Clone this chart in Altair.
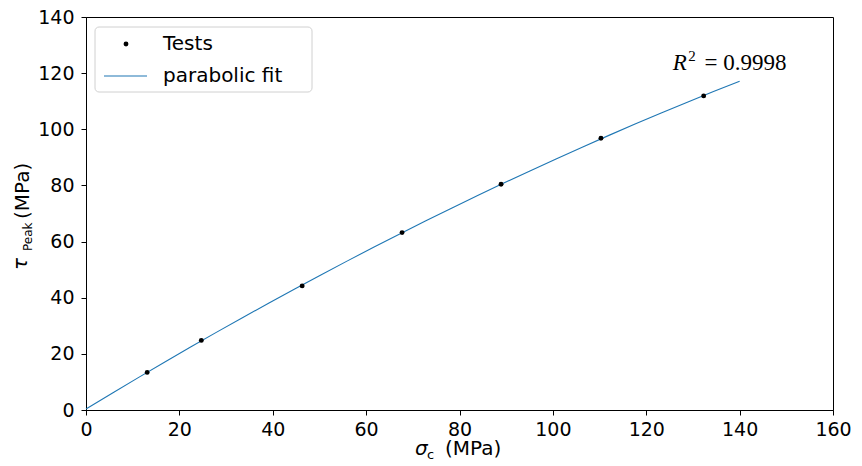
import altair as alt
import pandas as pd

# Test data
sigma_c = [13.1, 24.7, 46.3, 67.7, 88.9, 110.3, 132.3]
tau_peak = [13.4, 24.8, 44.2, 63.2, 80.4, 96.8, 111.9]

x_ticks = [0, 20, 40, 60, 80, 100, 120, 140, 160]
y_ticks = [0, 20, 40, 60, 80, 100, 120, 140]

fit_extent = [0, 140]
r2_label = "= 0.9998"

W, H = 747, 393
SANS = "DejaVu Sans"
SERIF = "Liberation Serif"
BLUE = "#1f77b4"

df = pd.DataFrame({"x": sigma_c, "y": tau_peak})

xs = alt.Scale(domain=[0, 160], nice=False, zero=False)
ys = alt.Scale(domain=[0, 140], nice=False, zero=False)

xax = alt.Axis(values=x_ticks, title=None, grid=False, labelFontSize=19, labelFont=SANS,
               labelColor="black", tickColor="black", domainColor="black",
               tickSize=5, labelPadding=5, labelFlush=False)
yax = alt.Axis(values=y_ticks, title=None, grid=False, labelFontSize=19, labelFont=SANS,
               labelColor="black", tickColor="black", domainColor="black",
               tickSize=5, labelPadding=7, labelFlush=False)

base = alt.Chart(df)

fit = base.transform_regression("x", "y", method="poly", order=2, extent=fit_extent).mark_line(
    color=BLUE, strokeWidth=1.1
).encode(x=alt.X("x:Q", scale=xs, axis=xax), y=alt.Y("y:Q", scale=ys, axis=yax))

pts = base.mark_point(filled=True, color="black", size=24, opacity=1).encode(
    x=alt.X("x:Q", scale=xs), y=alt.Y("y:Q", scale=ys)
)

# R^2 annotation in data coordinates
r_df = pd.DataFrame({"x": [125.7], "y": [121.1], "t": ["R"]})
sup_df = pd.DataFrame({"x": [129.0], "y": [124.3], "t": ["2"]})
eq_df = pd.DataFrame({"x": [132.5], "y": [121.1], "t": [r2_label]})

r_txt = alt.Chart(r_df).mark_text(font=SERIF, fontSize=23, fontStyle="italic", align="left",
                                  baseline="alphabetic", color="black").encode(
    x=alt.X("x:Q", scale=xs), y=alt.Y("y:Q", scale=ys), text="t:N")
sup_txt = alt.Chart(sup_df).mark_text(font=SERIF, fontSize=15, align="left",
                                      baseline="alphabetic", color="black").encode(
    x=alt.X("x:Q", scale=xs), y=alt.Y("y:Q", scale=ys), text="t:N")
eq_txt = alt.Chart(eq_df).mark_text(font=SERIF, fontSize=23, align="left",
                                    baseline="alphabetic", color="black").encode(
    x=alt.X("x:Q", scale=xs), y=alt.Y("y:Q", scale=ys), text="t:N")


def label(text, x, y, size=20, style="normal", angle=0, align="left", baseline="alphabetic", font=SANS):
    kw = dict(font=font, fontSize=size, fontStyle=style, align=align, baseline=baseline, color="black")
    if angle:
        kw["angle"] = angle
    return alt.Chart(pd.DataFrame({"t": [text]})).mark_text(**kw).encode(
        x=alt.value(x), y=alt.value(y), text="t:N")


# axis titles
x_title = [
    label("σ", 329, 438, style="italic"),
    label("c", 341, 442, size=13),
    label("(MPa)", 359, 438),
]
y_title = [
    label("τ", -59, 253, style="italic", angle=270),
    label("Peak", -54, 234, size=12, angle=270),
    label("(MPa)", -57, 202, angle=270),
]

# legend
leg_box = alt.Chart(pd.DataFrame({"a": [0]})).mark_rect(
    fill="white", fillOpacity=0.8, stroke="#d0d0d0", strokeWidth=1, cornerRadius=4
).encode(x=alt.value(9), x2=alt.value(226), y=alt.value(10), y2=alt.value(75))
leg_dot = alt.Chart(pd.DataFrame({"a": [0]})).mark_point(filled=True, color="black", size=24, opacity=1).encode(
    x=alt.value(40), y=alt.value(27))
leg_line = alt.Chart(pd.DataFrame({"a": [0]})).mark_rule(color=BLUE, strokeWidth=1.1).encode(
    x=alt.value(18), x2=alt.value(61), y=alt.value(59))
leg_t1 = label("Tests", 77, 27, baseline="middle")
leg_t2 = label("parabolic fit", 77, 59, baseline="middle")

chart = alt.layer(
    fit, pts, r_txt, sup_txt, eq_txt, *x_title, *y_title,
    leg_box, leg_dot, leg_line, leg_t1, leg_t2
).properties(
    width=W, height=H,
    autosize=alt.AutoSizeParams(type="none"),
    padding={"left": 78, "top": 9, "right": 20, "bottom": 51},
).configure_view(stroke="black", strokeWidth=1).configure_axis(domainWidth=1, tickWidth=1)

chart.save("out.html", embed_options={"renderer": "svg", "actions": False})
